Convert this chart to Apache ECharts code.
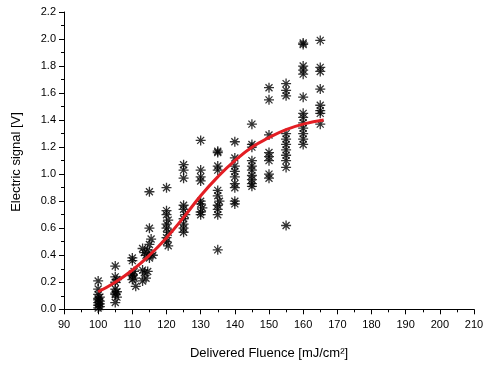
<!DOCTYPE html>
<html>
<head>
<meta charset="utf-8">
<script src="https://cdn.jsdelivr.net/npm/echarts@6/dist/echarts.min.js"></script>
<style>
  html, body { margin: 0; padding: 0; background: #fff; }
  #chart { width: 488px; height: 365px; }
</style>
</head>
<body>
<div id="chart"></div>
<script>
// measured points (fluence, signal), read column by column
const fluence = [
  100, 100, 100, 100.5, 100, 100.5, 100, 100.5, 100, 100.5, 100, 100,
  105, 105, 105.5, 105, 105, 105.5, 105, 105, 105.5, 105,
  110, 110, 110.5, 110, 110, 110.5, 111, 110,
  113, 113.5, 114, 114.5, 113, 113.5, 114, 113, 114.5, 115, 115, 115.5, 115, 115.5, 115, 116,
  120, 120, 120, 120.5, 120, 120, 120.5, 120, 120, 120.5,
  125, 125, 125, 125, 125, 125.5, 125, 125, 125, 125,
  130, 130, 130, 130, 130, 130, 130.5, 130, 130,
  135, 135, 135, 135, 135, 135, 135.5, 135, 135, 135, 135,
  140, 140, 140, 140, 140, 140, 140, 140, 140,
  145, 145, 145, 145, 145, 145, 145, 145, 145, 145,
  150, 150, 150, 150, 150, 150, 150, 150,
  155, 155, 155, 155, 155, 155, 155, 155, 155, 155, 155,
  160, 160, 160, 160, 160, 160, 160, 160, 160, 160, 160, 160, 160,
  165, 165, 165, 165, 165, 165, 165, 165
]
const signal = [
  0.21, 0.15, 0.11, 0.09, 0.08, 0.06, 0.05, 0.04, 0.03, 0.02, 0.01, 0.07,
  0.32, 0.24, 0.22, 0.20, 0.15, 0.13, 0.12, 0.11, 0.09, 0.05,
  0.38, 0.36, 0.28, 0.26, 0.25, 0.23, 0.17, 0.22,
  0.45, 0.42, 0.40, 0.44, 0.29, 0.27, 0.23, 0.21, 0.28, 0.87, 0.60, 0.52, 0.48, 0.41, 0.38, 0.40,
  0.90, 0.73, 0.70, 0.66, 0.63, 0.60, 0.57, 0.53, 0.50, 0.47,
  1.07, 1.03, 0.97, 0.77, 0.74, 0.70, 0.67, 0.63, 0.60, 0.57,
  1.25, 1.03, 0.98, 0.95, 0.80, 0.78, 0.75, 0.72, 0.70,
  1.17, 1.16, 1.06, 1.03, 0.88, 0.84, 0.80, 0.77, 0.74, 0.70, 0.44,
  1.24, 1.12, 1.06, 1.02, 0.98, 0.93, 0.90, 0.80, 0.78,
  1.37, 1.22, 1.20, 1.10, 1.06, 1.03, 0.99, 0.96, 0.93, 0.91,
  1.64, 1.55, 1.29, 1.16, 1.13, 1.10, 1.00, 0.97,
  1.67, 1.62, 1.58, 1.30, 1.26, 1.22, 1.18, 1.14, 1.10, 1.05, 0.62,
  1.97, 1.96, 1.80, 1.77, 1.74, 1.57, 1.45, 1.42, 1.38, 1.34, 1.30, 1.26, 1.22,
  1.99, 1.79, 1.76, 1.63, 1.51, 1.47, 1.45, 1.37
]
// red fit curve
const fitX = [100, 105, 110, 115, 120, 125, 130, 135, 140, 145, 150, 155, 160, 166]
const fitY = [0.13, 0.20, 0.29, 0.40, 0.53, 0.68, 0.84, 0.98, 1.10, 1.20, 1.27, 1.33, 1.37, 1.40]

const yTicks = [0, 0.2, 0.4, 0.6, 0.8, 1.0, 1.2, 1.4, 1.6, 1.8, 2.0, 2.2]
const yMinorTicks = [0.1, 0.3, 0.5, 0.7, 0.9, 1.1, 1.3, 1.5, 1.7, 1.9, 2.1]

const font = "'Liberation Sans', Arial, sans-serif"
const star = "path://M5 0L5 10M0 5L10 5M1.5 1.5L8.5 8.5M8.5 1.5L1.5 8.5"

const chart = echarts.init(document.getElementById("chart"))
chart.setOption({
  animation: false,
  grid: { left: 64, right: 14, top: 12, bottom: 49 },
  xAxis: {
    type: "value",
    min: 90,
    max: 210,
    interval: 10,
    name: "Delivered Fluence [mJ/cm²]",
    nameLocation: "middle",
    nameGap: 35,
    nameTextStyle: { fontFamily: font, fontSize: 13, color: "#000" },
    axisLine: { show: true, lineStyle: { color: "#000", width: 1 } },
    axisTick: { length: 5, lineStyle: { color: "#000" } },
    minorTick: { show: true, splitNumber: 2, length: 3, lineStyle: { color: "#000" } },
    axisLabel: { fontFamily: font, fontSize: 11, color: "#000", margin: 7 },
    splitLine: { show: false }
  },
  yAxis: [
    {
      type: "value",
      min: -0.02,
      max: 2.2,
      name: "Electric signal [V]",
      nameLocation: "middle",
      nameGap: 41,
      nameTextStyle: { fontFamily: font, fontSize: 13, color: "#000" },
      axisLine: { show: true, lineStyle: { color: "#000", width: 1 } },
      axisTick: { length: 5, customValues: yTicks, lineStyle: { color: "#000" } },
      axisLabel: {
        fontFamily: font, fontSize: 11, color: "#000", margin: 8,
        customValues: yTicks,
        formatter: (v) => v.toFixed(1)
      },
      splitLine: { show: false }
    },
    {
      type: "value",
      min: -0.02,
      max: 2.2,
      position: "left",
      axisLine: { show: false },
      axisTick: { show: true, length: 3, customValues: yMinorTicks, lineStyle: { color: "#000" } },
      axisLabel: { show: false },
      splitLine: { show: false }
    }
  ],
  series: [
    {
      type: "scatter",
      data: fluence.map((x, i) => [x, signal[i]]),
      symbol: star,
      symbolSize: 10,
      itemStyle: { color: "transparent", borderColor: "#000", borderWidth: 1.3 },
      z: 2
    },
    {
      type: "line",
      data: fitX.map((x, i) => [x, fitY[i]]),
      smooth: true,
      showSymbol: false,
      lineStyle: { color: "#e31e24", width: 3 },
      z: 3
    }
  ]
})
</script>
</body>
</html>
